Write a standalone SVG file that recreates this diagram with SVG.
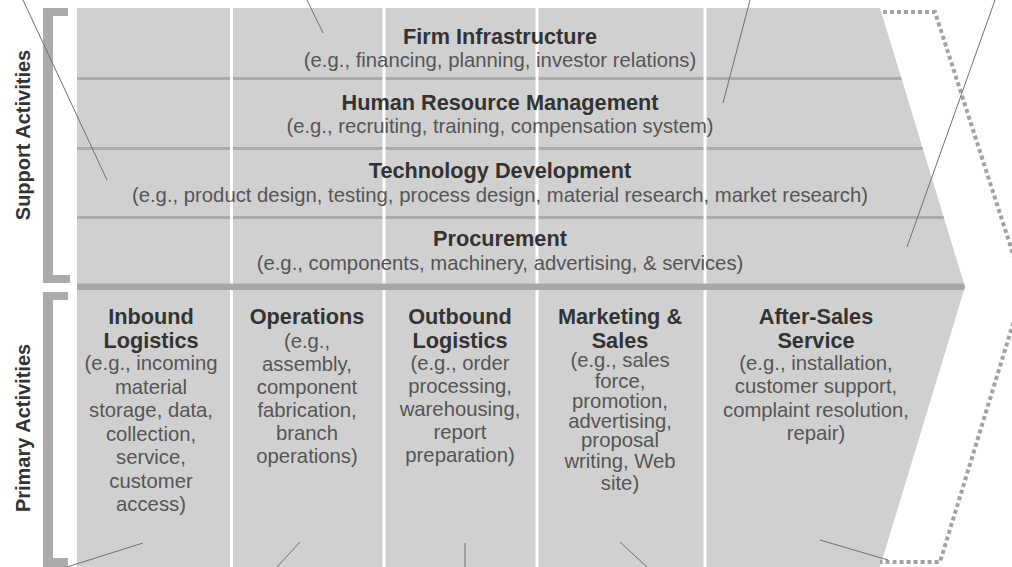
<svg xmlns="http://www.w3.org/2000/svg" width="1012" height="567" viewBox="0 0 1012 567">
<defs>
<clipPath id="chev"><polygon points="77,8 880,8 965,287 880,567 77,567"/></clipPath>
<style>
.t{font-family:"Liberation Sans",Arial,sans-serif;font-weight:bold;font-size:21.7px;fill:#333;text-anchor:middle}
.s{font-family:"Liberation Sans",Arial,sans-serif;font-size:20.3px;fill:#555;text-anchor:middle}
.side{font-family:"Liberation Sans",Arial,sans-serif;font-weight:bold;font-size:20px;fill:#333;text-anchor:middle}
.sep{stroke:#ababab;stroke-width:3}
.wl{stroke:#fff;stroke-width:3}
.lead{stroke:#707070;stroke-width:1;fill:none}
.br{fill:#ababab}
</style>
</defs>
<rect width="1012" height="567" fill="#fff"/>
<g id="chevron">
<polygon points="77,8 880,8 965,287 880,567 77,567" fill="#d0d0d0"/>
<g clip-path="url(#chev)">
<line class="sep" x1="77" y1="78.5" x2="1000" y2="78.5"/>
<line class="sep" x1="77" y1="148.5" x2="1000" y2="148.5"/>
<line class="sep" x1="77" y1="217.5" x2="1000" y2="217.5"/>
<line class="wl" x1="231.5" y1="8" x2="231.5" y2="567"/>
<line class="wl" x1="384" y1="8" x2="384" y2="567"/>
<line class="wl" x1="537" y1="8" x2="537" y2="567"/>
<line class="wl" x1="705" y1="8" x2="705" y2="567"/>
<rect x="77" y="283.5" width="900" height="6.5" fill="#a7a7a7"/>
</g>
</g>
<path id="margin" d="M883,12 H935 L1024,288 L940,562 H880" fill="none" stroke="#a2a2a2" stroke-width="4" stroke-dasharray="4 3"/>
<g id="support-bracket">
<rect class="br" x="43" y="8" width="10" height="275"/>
<rect class="br" x="43" y="8" width="25" height="8"/>
<rect class="br" x="43" y="275" width="27" height="8"/>
<text class="side" transform="translate(30,135) rotate(-90)">Support Activities</text>
</g>
<g id="primary-bracket">
<rect class="br" x="43" y="292" width="10" height="275"/>
<rect class="br" x="43" y="292" width="25" height="8"/>
<rect class="br" x="43" y="558" width="25" height="9"/>
<text class="side" transform="translate(30,428) rotate(-90)">Primary Activities</text>
</g>
<g id="firm-infrastructure">
<text class="t" x="500" y="44">Firm Infrastructure</text>
<text class="s" x="500" y="67">(e.g., financing, planning, investor relations)</text>
</g>
<g id="hrm">
<text class="t" x="500" y="110">Human Resource Management</text>
<text class="s" x="500" y="133">(e.g., recruiting, training, compensation system)</text>
</g>
<g id="technology-development">
<text class="t" x="500" y="178">Technology Development</text>
<text class="s" x="500" y="202">(e.g., product design, testing, process design, material research, market research)</text>
</g>
<g id="procurement">
<text class="t" x="500" y="246">Procurement</text>
<text class="s" x="500" y="270">(e.g., components, machinery, advertising, &amp; services)</text>
</g>
<g id="inbound-logistics">
<text class="t" x="151"><tspan x="151" y="324">Inbound</tspan><tspan x="151" y="348">Logistics</tspan></text>
<text class="s"><tspan x="151" y="370">(e.g., incoming</tspan><tspan x="151" y="393.5">material</tspan><tspan x="151" y="417">storage, data,</tspan><tspan x="151" y="440.5">collection,</tspan><tspan x="151" y="464">service,</tspan><tspan x="151" y="487.5">customer</tspan><tspan x="151" y="511">access)</tspan></text>
</g>
<g id="operations">
<text class="t" x="307" y="324">Operations</text>
<text class="s"><tspan x="307" y="347.5">(e.g.,</tspan><tspan x="307" y="371">assembly,</tspan><tspan x="307" y="394">component</tspan><tspan x="307" y="417">fabrication,</tspan><tspan x="307" y="440">branch</tspan><tspan x="307" y="463">operations)</tspan></text>
</g>
<g id="outbound-logistics">
<text class="t"><tspan x="460" y="324">Outbound</tspan><tspan x="460" y="348">Logistics</tspan></text>
<text class="s"><tspan x="460" y="370">(e.g., order</tspan><tspan x="460" y="393">processing,</tspan><tspan x="460" y="416">warehousing,</tspan><tspan x="460" y="439">report</tspan><tspan x="460" y="462">preparation)</tspan></text>
</g>
<g id="marketing-sales">
<text class="t"><tspan x="620" y="324">Marketing &amp;</tspan><tspan x="620" y="348">Sales</tspan></text>
<text class="s"><tspan x="620" y="367">(e.g., sales</tspan><tspan x="620" y="387.5">force,</tspan><tspan x="620" y="408">promotion,</tspan><tspan x="620" y="428">advertising,</tspan><tspan x="620" y="447">proposal</tspan><tspan x="620" y="468">writing, Web</tspan><tspan x="620" y="490">site)</tspan></text>
</g>
<g id="after-sales-service">
<text class="t"><tspan x="816" y="324">After-Sales</tspan><tspan x="816" y="348">Service</tspan></text>
<text class="s"><tspan x="816" y="370">(e.g., installation,</tspan><tspan x="816" y="393">customer support,</tspan><tspan x="816" y="416.5">complaint resolution,</tspan><tspan x="816" y="440">repair)</tspan></text>
</g>
<g id="connectors">
<line class="lead" x1="23" y1="0" x2="107" y2="180"/>
<line class="lead" x1="307" y1="0" x2="323" y2="33"/>
<line class="lead" x1="750" y1="0" x2="723" y2="103"/>
<line class="lead" x1="995" y1="0" x2="907" y2="247"/>
<line class="lead" x1="67" y1="567" x2="143" y2="543"/>
<line class="lead" x1="277" y1="567" x2="300" y2="542"/>
<line class="lead" x1="465" y1="543" x2="465" y2="567"/>
<line class="lead" x1="620" y1="542" x2="647" y2="567"/>
<line class="lead" x1="820" y1="540" x2="888" y2="560"/>
</g>
</svg>
